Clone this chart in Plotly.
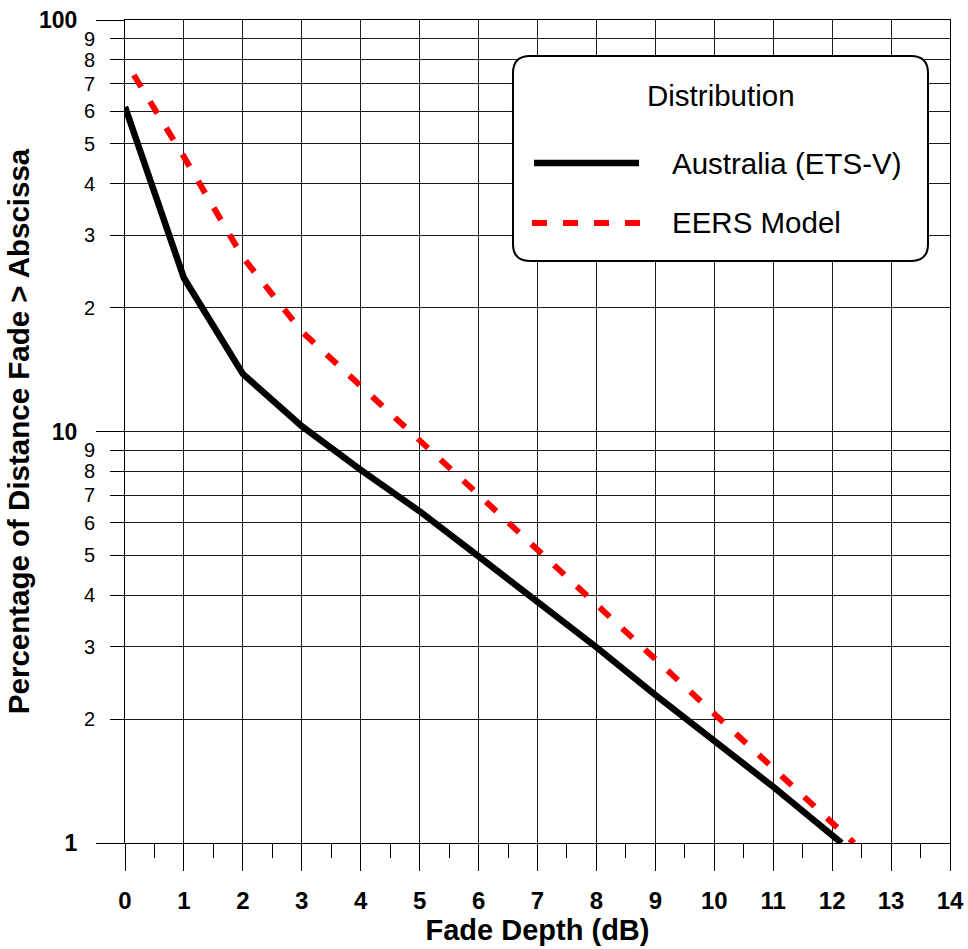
import plotly.graph_objects as go

# ---- data ----
aus_fade_db = [0, 1, 2, 3, 4, 5, 6, 7, 8, 9, 10, 11, 12.16]
aus_pct = [61.5, 23.6, 13.8, 10.3, 8.07, 6.40, 4.97, 3.86, 2.99, 2.29, 1.77, 1.37, 1.0]

eers_fade_db = [0.15, 1, 2, 3, 4, 5, 6, 7, 8, 9, 10, 11, 12.37]
eers_pct = [73.5, 46.5, 26.5, 17.5, 12.9, 9.55, 7.02, 5.16, 3.81, 2.82, 2.06, 1.52, 1.0]

x_ticks = list(range(0, 15))
x_minor = [i + 0.5 for i in range(0, 14)]
y_major = [1, 10, 100]
y_major_text = ["1", "10", "100"]
y_minor = [2, 3, 4, 5, 6, 7, 8, 9, 20, 30, 40, 50, 60, 70, 80, 90]
y_minor_text = ["2", "3", "4", "5", "6", "7", "8", "9",
                "2", "3", "4", "5", "6", "7", "8", "9"]

legend_title = "Distribution"
series_names = ["Australia (ETS-V)", "EERS Model"]

FONT = "Liberation Sans, Arial, sans-serif"
W, H = 968, 949
ML, MR, MT, MB = 125, 18, 20, 106
PW, PH = W - ML - MR, H - MT - MB

fig = go.Figure()
fig.add_trace(go.Scatter(x=aus_fade_db, y=aus_pct, mode="lines", name=series_names[0],
                         line=dict(color="black", width=6.5), showlegend=False))
fig.add_trace(go.Scatter(x=eers_fade_db, y=eers_pct, mode="lines", name=series_names[1],
                         line=dict(color="#ff0000", width=6, dash="14px,17px"), showlegend=False))
# invisible trace so the label-only overlay axis gets drawn
fig.add_trace(go.Scatter(x=[0], y=[1], mode="markers", yaxis="y2", marker=dict(opacity=0),
                         showlegend=False, hoverinfo="skip"))

grid = "#1a1a1a"
fig.update_layout(
    width=W, height=H,
    margin=dict(l=ML, r=MR, t=MT, b=MB, autoexpand=False),
    paper_bgcolor="white", plot_bgcolor="white",
    font=dict(family=FONT, color="black"),
    xaxis=dict(
        range=[0, 14], tickmode="array", tickvals=x_ticks, automargin=False,
        ticks="outside", ticklen=27, tickwidth=1, tickcolor="black",
        tickfont=dict(size=24, weight="bold"), ticklabelstandoff=9,
        showgrid=True, gridcolor=grid, gridwidth=1,
        showline=True, linecolor="black", linewidth=1, mirror=True, zeroline=False,
        minor=dict(tickmode="array", tickvals=x_minor, ticks="outside", ticklen=14,
                   tickwidth=1, tickcolor="black", showgrid=False),
        title=dict(text="Fade Depth (dB)", font=dict(size=29, weight="bold"), standoff=6),
    ),
    yaxis=dict(
        type="log", range=[0, 2], tickmode="array", tickvals=y_major, ticktext=y_major_text,
        automargin=False,
        ticks="outside", ticklen=28, tickwidth=1, tickcolor="black",
        tickfont=dict(size=23, weight="bold"), ticklabelstandoff=14,
        showgrid=True, gridcolor=grid, gridwidth=1,
        showline=True, linecolor="black", linewidth=1, mirror=True, zeroline=False,
        minor=dict(tickmode="array", tickvals=y_minor, ticks="outside", ticklen=14,
                   tickwidth=1, tickcolor="black", showgrid=True, gridcolor=grid, gridwidth=1),
        title=dict(text="Percentage of Distance Fade > Abscissa", font=dict(size=29.5, weight="bold"),
                   standoff=0),
    ),
    yaxis2=dict(
        type="log", range=[0, 2], overlaying="y", anchor="x", side="left", automargin=False,
        tickmode="array", tickvals=y_minor, ticktext=y_minor_text,
        ticks="outside", ticklen=14, tickwidth=1, tickcolor="black",
        tickfont=dict(size=20), ticklabelstandoff=11,
        showgrid=False, showline=False, zeroline=False,
    ),
)

# ---- manual legend (rounded box, long line samples) ----
def P(px, py):
    return f"{(px - ML) / PW:.5f},{(MT + PH - py) / PH:.5f}"

x0, x1, y0, y1, r = 513, 928, 56, 261, 17
path = (f"M {P(x0 + r, y0)} L {P(x1 - r, y0)} Q {P(x1, y0)} {P(x1, y0 + r)} "
        f"L {P(x1, y1 - r)} Q {P(x1, y1)} {P(x1 - r, y1)} L {P(x0 + r, y1)} "
        f"Q {P(x0, y1)} {P(x0, y1 - r)} L {P(x0, y0 + r)} Q {P(x0, y0)} {P(x0 + r, y0)} Z")
fig.add_shape(type="path", path=path, xref="paper", yref="paper", layer="above",
              fillcolor="white", line=dict(color="black", width=2))

def px2x(px):
    return (px - ML) / PW

def py2y(py):
    return (MT + PH - py) / PH

fig.add_shape(type="line", xref="paper", yref="paper", layer="above",
              x0=px2x(534), x1=px2x(639), y0=py2y(163), y1=py2y(163),
              line=dict(color="black", width=6.5))
fig.add_shape(type="line", xref="paper", yref="paper", layer="above",
              x0=px2x(532), x1=px2x(640), y0=py2y(223), y1=py2y(223),
              line=dict(color="#ff0000", width=6, dash="15px,16px"))

fig.add_annotation(text=legend_title, x=px2x(721), y=py2y(96), xref="paper", yref="paper",
                   showarrow=False, xanchor="center", yanchor="middle", font=dict(size=29.5))
fig.add_annotation(text=series_names[0], x=px2x(670), y=py2y(163), xref="paper", yref="paper",
                   showarrow=False, xanchor="left", yanchor="middle", font=dict(size=29.5))
fig.add_annotation(text=series_names[1], x=px2x(670), y=py2y(223), xref="paper", yref="paper",
                   showarrow=False, xanchor="left", yanchor="middle", font=dict(size=29.5))

fig.write_html("out.html")
